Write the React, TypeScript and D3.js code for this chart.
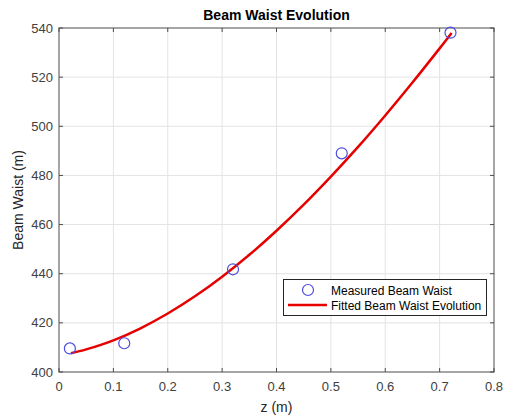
import React from "react";
import * as d3 from "d3";

const measuredZ = [0.02, 0.12, 0.32, 0.52, 0.72];
const measuredW = [409.6, 411.7, 441.8, 489.0, 538.1];

const fitZ = [0.022, 0.05, 0.1, 0.15, 0.2, 0.25, 0.3, 0.35, 0.4, 0.45, 0.5, 0.55, 0.6, 0.65, 0.7, 0.722];
const fitW = [407.6, 409.2, 412.9, 417.8, 423.8, 430.8, 438.8, 447.7, 457.5, 468.1, 479.5, 491.6, 504.4, 517.8, 531.7, 538.0];

const xTicks = [0, 0.1, 0.2, 0.3, 0.4, 0.5, 0.6, 0.7, 0.8];
const yTicks = [400, 420, 440, 460, 480, 500, 520, 540];

const W = 517;
const H = 418;
const L = 59, R = 494, T = 28, B = 372;

export default function App() {
  const x = d3.scaleLinear().domain([0, 0.8]).range([L, R]);
  const y = d3.scaleLinear().domain([400, 540]).range([B, T]);
  const line = d3
    .line<number>()
    .x((_, i) => x(fitZ[i]))
    .y((d) => y(d))
    .curve(d3.curveCatmullRom);
  const font = "'Liberation Sans', Arial, Helvetica, sans-serif";
  const axisColor = "#4d4d4d";
  const textColor = "#404040";
  const gridColor = "#e3e3e3";
  const blue = "#4b4bdc";
  const red = "#e60000";
  const tk = 4;
  return (
    <svg
      width={W}
      height={H}
      style={{ position: "absolute", left: 0, top: 0, background: "#fff" }}
      fontFamily={font}
    >
      <rect x={0} y={0} width={W} height={H} fill="#fff" />
      {/* grid */}
      {xTicks.slice(1, -1).map((t) => (
        <line key={"gx" + t} x1={x(t)} x2={x(t)} y1={T} y2={B} stroke={gridColor} strokeWidth={1} />
      ))}
      {yTicks.slice(1, -1).map((t) => (
        <line key={"gy" + t} x1={L} x2={R} y1={y(t)} y2={y(t)} stroke={gridColor} strokeWidth={1} />
      ))}
      {/* ticks */}
      {xTicks.map((t) => (
        <g key={"tx" + t}>
          <line x1={x(t)} x2={x(t)} y1={B} y2={B - tk} stroke={axisColor} />
          <line x1={x(t)} x2={x(t)} y1={T} y2={T + tk} stroke={axisColor} />
          <text x={x(t)} y={391} textAnchor="middle" fontSize={13} fill={textColor}>
            {t === 0 ? "0" : d3.format(".1f")(t)}
          </text>
        </g>
      ))}
      {yTicks.map((t) => (
        <g key={"ty" + t}>
          <line x1={L} x2={L + tk} y1={y(t)} y2={y(t)} stroke={axisColor} />
          <line x1={R} x2={R - tk} y1={y(t)} y2={y(t)} stroke={axisColor} />
          <text x={53} y={y(t) + 4.5} textAnchor="end" fontSize={13} fill={textColor}>
            {t}
          </text>
        </g>
      ))}
      {/* box */}
      <rect x={L} y={T} width={R - L} height={B - T} fill="none" stroke={axisColor} strokeWidth={1} />
      {/* fit line */}
      <path d={line(fitW) || ""} fill="none" stroke={red} strokeWidth={2.5} />
      {/* measured points */}
      {measuredW.map((w, i) => (
        <circle key={"m" + i} cx={x(measuredZ[i])} cy={y(w)} r={5.5} fill="none" stroke={blue} strokeWidth={1.2} />
      ))}
      {/* title & labels */}
      <text x={(L + R) / 2} y={20} textAnchor="middle" fontSize={14} fontWeight="bold" fill="#000">
        Beam Waist Evolution
      </text>
      <text x={(L + R) / 2} y={412} textAnchor="middle" fontSize={14} fill="#262626">
        z (m)
      </text>
      <text
        transform={`translate(23, ${(T + B) / 2}) rotate(-90)`}
        textAnchor="middle"
        fontSize={14}
        fill="#262626"
      >
        Beam Waist (m)
      </text>
      {/* legend */}
      <g>
        <rect x={283.5} y={279.5} width={203} height={36} fill="#fff" stroke="#262626" strokeWidth={1} />
        <circle cx={308} cy={290} r={5.5} fill="none" stroke={blue} strokeWidth={1.2} />
        <line x1={288} x2={327} y1={305} y2={305} stroke={red} strokeWidth={2.5} />
        <text x={331} y={294.5} fontSize={12} fill="#000">
          Measured Beam Waist
        </text>
        <text x={331} y={309.5} fontSize={12} fill="#000">
          Fitted Beam Waist Evolution
        </text>
      </g>
    </svg>
  );
}
